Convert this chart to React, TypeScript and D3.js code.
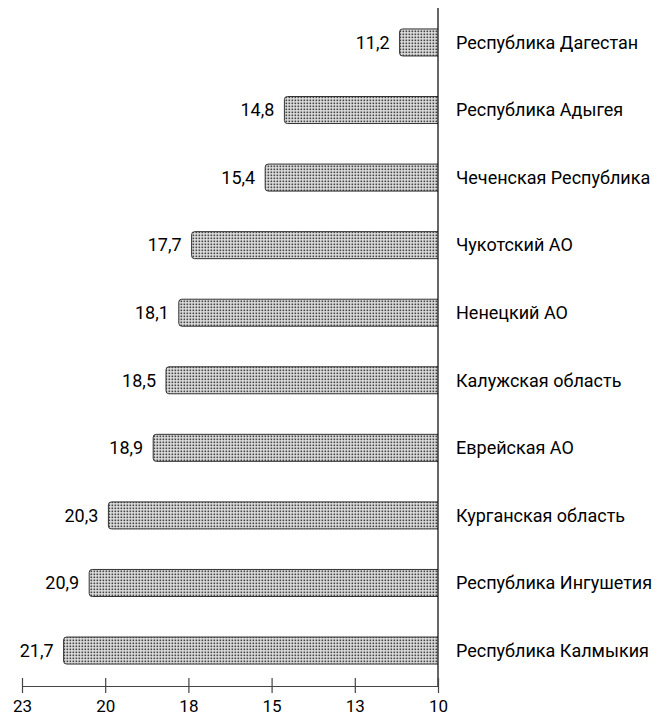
import { useEffect, useRef } from 'react';
import * as d3 from 'd3';

const regions = [
  'Республика Дагестан',
  'Республика Адыгея',
  'Чеченская Республика',
  'Чукотский АО',
  'Ненецкий АО',
  'Калужская область',
  'Еврейская АО',
  'Курганская область',
  'Республика Ингушетия',
  'Республика Калмыкия',
];
const values = [11.2, 14.8, 15.4, 17.7, 18.1, 18.5, 18.9, 20.3, 20.9, 21.7];
const tickValues = [10, 12.6, 15.2, 17.8, 20.4, 23];

const FONT = 'Roboto, "Noto Sans", sans-serif';

export default function App() {
  const svgRef = useRef<SVGSVGElement>(null);

  useEffect(() => {
    if (!svgRef.current) return;
    const svg = d3.select(svgRef.current);
    svg.selectAll('*').remove();

    const x = d3.scaleLinear().domain([10, 23]).range([438, 22]);
    const y = d3
      .scaleBand()
      .domain(regions)
      .range([8, 685])
      .paddingInner(0.6)
      .paddingOuter(0.31);

    const defs = svg.append('defs');
    const pat = defs
      .append('pattern')
      .attr('id', 'dots')
      .attr('patternUnits', 'userSpaceOnUse')
      .attr('width', 3)
      .attr('height', 3);
    pat.append('rect').attr('width', 3).attr('height', 3).attr('fill', '#e4e4e4');
    pat.append('rect').attr('x', 0.5).attr('y', 0.5).attr('width', 1.7).attr('height', 1.7).attr('fill', '#444');

    const data = regions.map((r, i) => ({ region: r, value: values[i] }));
    const r = 3;
    const barPath = (d: { region: string; value: number }) => {
      const x0 = x(d.value);
      const x1 = x(10);
      const y0 = y(d.region)!;
      const h = y.bandwidth();
      return `M${x1},${y0}H${x0 + r}Q${x0},${y0} ${x0},${y0 + r}V${y0 + h - r}Q${x0},${y0 + h} ${x0 + r},${y0 + h}H${x1}`;
    };

    svg
      .append('g')
      .selectAll('path')
      .data(data)
      .enter()
      .append('path')
      .attr('d', barPath)
      .attr('fill', 'url(#dots)')
      .attr('stroke', '#333')
      .attr('stroke-width', 1);

    svg
      .append('g')
      .selectAll('text')
      .data(data)
      .enter()
      .append('text')
      .attr('x', (d) => x(d.value) - 10)
      .attr('y', (d) => y(d.region)! + y.bandwidth() / 2)
      .attr('dy', '0.35em')
      .attr('text-anchor', 'end')
      .attr('font-family', FONT)
      .attr('font-size', 18)
      .attr('fill', '#000')
      .text((d) => d.value.toFixed(1).replace('.', ','));

    svg
      .append('g')
      .selectAll('text')
      .data(data)
      .enter()
      .append('text')
      .attr('x', 456)
      .attr('y', (d) => y(d.region)! + y.bandwidth() / 2)
      .attr('dy', '0.35em')
      .attr('font-family', FONT)
      .attr('font-size', 18)
      .attr('fill', '#000')
      .text((d) => d.region);

    // vertical axis line
    svg
      .append('line')
      .attr('x1', x(10))
      .attr('x2', x(10))
      .attr('y1', 8)
      .attr('y2', 686)
      .attr('stroke', '#000')
      .attr('stroke-width', 1.2);

    const axis = svg
      .append('g')
      .attr('transform', 'translate(0,686)')
      .call(
        d3
          .axisBottom(x)
          .tickValues(tickValues)
          .tickSize(7)
          .tickSizeOuter(0)
          .tickFormat((d) => String(Math.round(+d)))
      );
    axis.select('.domain').attr('stroke', '#444').attr('stroke-width', 1.2);
    axis.selectAll('.tick line').attr('stroke', '#444').attr('stroke-width', 1.2).attr('y1', -8);
    axis
      .selectAll('.tick text')
      .attr('font-family', FONT)
      .attr('font-size', 17)
      .attr('fill', '#000')
      .attr('y', 14);
  }, []);

  return (
    <svg
      ref={svgRef}
      width={663}
      height={718}
      style={{ position: 'absolute', left: 0, top: 0 }}
    ></svg>
  );
}
